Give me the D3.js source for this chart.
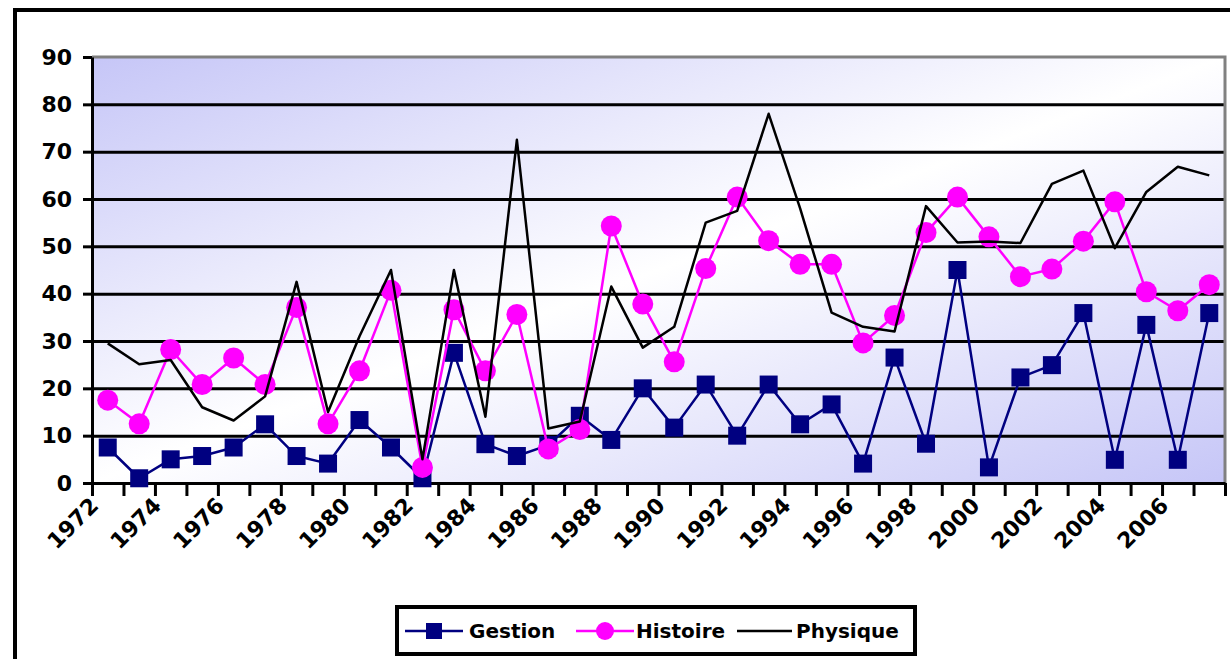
<!DOCTYPE html>
<html>
<head>
<meta charset="utf-8">
<script src="https://cdn.jsdelivr.net/npm/d3@7"></script>
<style>
  html, body { margin: 0; padding: 0; background: #fff; }
  svg { display: block; font-family: "DejaVu Sans", Verdana, sans-serif; }
</style>
</head>
<body>
<svg id="chart" width="1230" height="659"></svg>
<script>
// Categories: one per year
const years = [1972, 1973, 1974, 1975, 1976, 1977, 1978, 1979, 1980, 1981,
               1982, 1983, 1984, 1985, 1986, 1987, 1988, 1989, 1990, 1991,
               1992, 1993, 1994, 1995, 1996, 1997, 1998, 1999, 2000, 2001,
               2002, 2003, 2004, 2005, 2006, 2007];

// Series values
const gestion  = [7.5, 1, 5, 5.7, 7.5, 12.4, 5.7, 4.1, 13.3, 7.5,
                  1, 27.5, 8.2, 5.7, 8, 14.2, 9.1, 20, 11.7, 20.8,
                  10, 20.8, 12.4, 16.6, 4.1, 26.5, 8.3, 45, 3.3, 22.3,
                  24.9, 35.9, 4.9, 33.4, 4.9, 35.9];
const histoire = [17.5, 12.5, 28.2, 20.8, 26.4, 20.8, 37.1, 12.5, 23.7, 40.7,
                  3.3, 36.6, 23.7, 35.6, 7.2, 11.3, 54.3, 37.8, 25.6, 45.3,
                  60.4, 51.2, 46.2, 46.2, 29.6, 35.4, 52.9, 60.4, 52, 43.6,
                  45.2, 51.1, 59.4, 40.4, 36.4, 41.9];
const physique = [29.5, 25.1, 26, 16, 13.2, 18.3, 42.5, 15, 31, 45,
                  5, 45, 14, 72.5, 11.5, 13, 41.5, 28.6, 33, 55,
                  57.5, 78, 58, 36, 33, 32, 58.5, 50.8, 51, 50.7,
                  63.2, 66, 49.6, 61.5, 66.8, 65];

// Axis tick labels
const yTicks = [0, 10, 20, 30, 40, 50, 60, 70, 80, 90];
const xLabelYears = [1972, 1974, 1976, 1978, 1980, 1982, 1984, 1986, 1988,
                     1990, 1992, 1994, 1996, 1998, 2000, 2002, 2004, 2006];
const seriesNames = ["Gestion", "Histoire", "Physique"];

const plot = { left: 92, right: 1225, top: 57, bottom: 483 };
const svg = d3.select("#chart");

// Outer chart frame (runs off the right and bottom edges)
svg.append("rect")
  .attr("x", 15).attr("y", 10).attr("width", 1260).attr("height", 700)
  .attr("fill", "#fff").attr("stroke", "#000").attr("stroke-width", 4);

// Diagonal lavender-white-lavender fill of the plot area
const grad = svg.append("defs").append("linearGradient")
  .attr("id", "plotBg").attr("x1", 0).attr("y1", 0).attr("x2", 1).attr("y2", 1);
grad.append("stop").attr("offset", 0).attr("stop-color", "#c6c6f7");
grad.append("stop").attr("offset", 0.5).attr("stop-color", "#ffffff");
grad.append("stop").attr("offset", 1).attr("stop-color", "#c6c6f7");

const x = d3.scaleBand().domain(years).range([plot.left, plot.right]).padding(0);
const cx = yr => x(yr) + x.bandwidth() / 2;
const xEdge = d3.scaleLinear().domain([0, years.length]).range([plot.left, plot.right]);
const y = d3.scaleLinear().domain([0, 90]).range([plot.bottom, plot.top]);

svg.append("rect")
  .attr("x", plot.left).attr("y", plot.top)
  .attr("width", plot.right - plot.left).attr("height", plot.bottom - plot.top)
  .attr("fill", "url(#plotBg)");

// Horizontal gridlines
const grid = svg.append("g")
  .attr("transform", `translate(${plot.left},0)`)
  .call(d3.axisLeft(y).tickValues(yTicks.slice(1, -1))
        .tickSize(-(plot.right - plot.left)).tickFormat(""));
grid.select(".domain").remove();
grid.selectAll("line").attr("stroke", "#000").attr("stroke-width", 3);

// Grey plot-area border on top and right
svg.append("path")
  .attr("d", `M${plot.left},${y(90)}H${plot.right}V${plot.bottom}`)
  .attr("fill", "none").attr("stroke", "#808080").attr("stroke-width", 3);

// Y axis
const yAxis = svg.append("g")
  .attr("transform", `translate(${plot.left},0)`)
  .call(d3.axisLeft(y).tickValues(yTicks).tickSize(9).tickSizeOuter(0).tickPadding(11));
yAxis.select(".domain").attr("stroke", "#000").attr("stroke-width", 3);
yAxis.selectAll(".tick line").attr("stroke", "#000").attr("stroke-width", 3);
yAxis.selectAll(".tick text")
  .attr("font-size", 22).attr("font-weight", "bold").attr("fill", "#000")
  .attr("font-family", "'DejaVu Sans', Verdana, sans-serif");

// X axis: tick marks between categories
const xTicks = svg.append("g")
  .attr("transform", `translate(0,${plot.bottom})`)
  .call(d3.axisBottom(xEdge).tickValues(d3.range(0, years.length + 1))
        .tickSize(13).tickSizeOuter(0).tickFormat(""));
xTicks.select(".domain").attr("stroke", "#000").attr("stroke-width", 3);
xTicks.selectAll(".tick line").attr("stroke", "#000").attr("stroke-width", 3);

// X axis: rotated year labels
const xLabels = svg.append("g")
  .attr("transform", `translate(0,${plot.bottom})`)
  .call(d3.axisBottom(x).tickValues(xLabelYears).tickSize(0).tickFormat(d => String(d)));
xLabels.select(".domain").remove();
xLabels.selectAll(".tick text")
  .attr("x", 0).attr("y", 0).attr("dy", 0)
  .attr("text-anchor", "end")
  .attr("transform", "translate(-8,24) rotate(-45)")
  .attr("font-size", 22).attr("font-weight", "bold").attr("fill", "#000")
  .attr("font-family", "'DejaVu Sans', Verdana, sans-serif");

const line = d3.line().x((d, i) => cx(years[i])).y(d => y(d));

// Gestion: navy line with square markers
svg.append("path").datum(gestion)
  .attr("d", line).attr("fill", "none")
  .attr("stroke", "#000080").attr("stroke-width", 2.5).attr("stroke-linejoin", "round");
const sq = 18;
svg.append("g").selectAll("rect").data(gestion).join("rect")
  .attr("x", (d, i) => cx(years[i]) - sq / 2).attr("y", d => y(d) - sq / 2)
  .attr("width", sq).attr("height", sq).attr("fill", "#000080");

// Histoire: magenta line with round markers
svg.append("path").datum(histoire)
  .attr("d", line).attr("fill", "none")
  .attr("stroke", "#ff00ff").attr("stroke-width", 2.5).attr("stroke-linejoin", "round");
svg.append("g").selectAll("circle").data(histoire).join("circle")
  .attr("cx", (d, i) => cx(years[i])).attr("cy", d => y(d))
  .attr("r", 10.5).attr("fill", "#ff00ff");

// Physique: plain black line
svg.append("path").datum(physique)
  .attr("d", line).attr("fill", "none")
  .attr("stroke", "#000").attr("stroke-width", 2.5).attr("stroke-linejoin", "round");

// Legend
const lg = svg.append("g");
lg.append("rect").attr("x", 397).attr("y", 607).attr("width", 518).attr("height", 47)
  .attr("fill", "#fff").attr("stroke", "#000").attr("stroke-width", 4);
const ly = 631;
const legendItems = [
  { name: seriesNames[0], color: "#000080", x0: 405, x1: 463, marker: "square", tx: 469 },
  { name: seriesNames[1], color: "#ff00ff", x0: 576, x1: 634, marker: "circle", tx: 636 },
  { name: seriesNames[2], color: "#000",    x0: 737, x1: 792, marker: "none",   tx: 796 }
];
legendItems.forEach(it => {
  lg.append("line").attr("x1", it.x0).attr("x2", it.x1).attr("y1", ly).attr("y2", ly)
    .attr("stroke", it.color).attr("stroke-width", 2.5);
  const mx = (it.x0 + it.x1) / 2;
  if (it.marker === "square") {
    lg.append("rect").attr("x", mx - 8).attr("y", ly - 8).attr("width", 16).attr("height", 16)
      .attr("fill", it.color);
  } else if (it.marker === "circle") {
    lg.append("circle").attr("cx", mx).attr("cy", ly).attr("r", 9).attr("fill", it.color);
  }
  lg.append("text").attr("x", it.tx).attr("y", ly).attr("dy", "0.36em")
    .attr("font-size", 20).attr("font-weight", "bold").attr("fill", "#000")
    .text(it.name);
});
</script>
</body>
</html>
